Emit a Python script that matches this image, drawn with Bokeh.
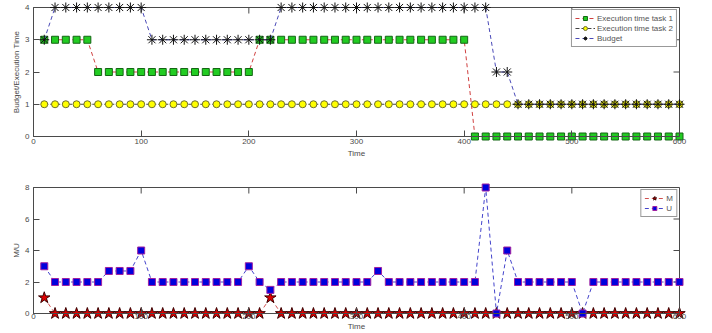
import math
from bokeh.plotting import figure
from bokeh.models import Range1d, LinearAxis, Legend, LegendItem, FixedTicker
from bokeh.layouts import column
from bokeh.embed import file_html
from bokeh.resources import INLINE

time = [10, 20, 30, 40, 50, 60, 70, 80, 90, 100,
        110, 120, 130, 140, 150, 160, 170, 180, 190, 200,
        210, 220, 230, 240, 250, 260, 270, 280, 290, 300,
        310, 320, 330, 340, 350, 360, 370, 380, 390, 400,
        410, 420, 430, 440, 450, 460, 470, 480, 490, 500,
        510, 520, 530, 540, 550, 560, 570, 580, 590, 600]

exec_task1 = [3, 3, 3, 3, 3, 2, 2, 2, 2, 2,
              2, 2, 2, 2, 2, 2, 2, 2, 2, 2,
              3, 3, 3, 3, 3, 3, 3, 3, 3, 3,
              3, 3, 3, 3, 3, 3, 3, 3, 3, 3,
              0, 0, 0, 0, 0, 0, 0, 0, 0, 0,
              0, 0, 0, 0, 0, 0, 0, 0, 0, 0]

exec_task2 = [1, 1, 1, 1, 1, 1, 1, 1, 1, 1,
              1, 1, 1, 1, 1, 1, 1, 1, 1, 1,
              1, 1, 1, 1, 1, 1, 1, 1, 1, 1,
              1, 1, 1, 1, 1, 1, 1, 1, 1, 1,
              1, 1, 1, 1, 1, 1, 1, 1, 1, 1,
              1, 1, 1, 1, 1, 1, 1, 1, 1, 1]

budget = [3, 4, 4, 4, 4, 4, 4, 4, 4, 4,
          3, 3, 3, 3, 3, 3, 3, 3, 3, 3,
          3, 3, 4, 4, 4, 4, 4, 4, 4, 4,
          4, 4, 4, 4, 4, 4, 4, 4, 4, 4,
          4, 4, 2, 2, 1, 1, 1, 1, 1, 1,
          1, 1, 1, 1, 1, 1, 1, 1, 1, 1]

m_vals = [1, 0, 0, 0, 0, 0, 0, 0, 0, 0,
          0, 0, 0, 0, 0, 0, 0, 0, 0, 0,
          0, 1, 0, 0, 0, 0, 0, 0, 0, 0,
          0, 0, 0, 0, 0, 0, 0, 0, 0, 0,
          0, 0, 0, 0, 0, 0, 0, 0, 0, 0,
          0, 0, 0, 0, 0, 0, 0, 0, 0, 0]

u_vals = [3, 2, 2, 2, 2, 2, 2.7, 2.7, 2.7, 4,
          2, 2, 2, 2, 2, 2, 2, 2, 2, 3,
          2, 1.5, 2, 2, 2, 2, 2, 2, 2, 2,
          2, 2.7, 2, 2, 2, 2, 2, 2, 2, 2,
          2, 8, 0, 4, 2, 2, 2, 2, 2, 2,
          0, 2, 2, 2, 2, 2, 2, 2, 2, 2]

x_ticks = [0, 100, 200, 300, 400, 500, 600]
y_ticks_top = [0, 1, 2, 3, 4]
y_ticks_bottom = [0, 2, 4, 6, 8]
x_min, x_max = 0, 600

FONT = "Liberation Sans"
AX_COLOR = "#4a4a4a"
TXT_COLOR = "#4a4a4a"
TICK_LEN = 6


def style_axis(ax, ticks):
    ax.ticker = FixedTicker(ticks=ticks)
    ax.axis_line_color = AX_COLOR
    ax.major_tick_line_color = AX_COLOR
    ax.major_tick_in = TICK_LEN
    ax.major_tick_out = 0
    ax.minor_tick_line_color = None
    ax.major_label_text_font = FONT
    ax.major_label_text_color = TXT_COLOR
    ax.major_label_text_font_size = "8px"
    ax.major_label_standoff = 2
    ax.axis_label_text_font = FONT
    ax.axis_label_text_color = TXT_COLOR
    ax.axis_label_text_font_style = "normal"
    ax.axis_label_text_font_size = "8px"
    ax.axis_label_standoff = 2


def make_fig(height, ymax, yticks, ylabel, top, bottom, x_std, x_lbl_std):
    p = figure(width=712, height=height, output_backend="svg", toolbar_location=None,
               x_range=Range1d(x_min, x_max), y_range=Range1d(0, ymax),
               min_border_left=33, min_border_right=33,
               min_border_top=top, min_border_bottom=bottom,
               x_axis_location=None, y_axis_location=None)
    p.outline_line_color = AX_COLOR
    p.outline_line_width = 1
    p.xgrid.visible = False
    p.ygrid.visible = False
    p.background_fill_color = "white"
    p.border_fill_color = "white"

    left = LinearAxis(axis_label=ylabel)
    style_axis(left, yticks)
    left.major_label_standoff = 4
    left.axis_label_standoff = 1
    p.add_layout(left, "left")

    below = LinearAxis(axis_label="Time")
    style_axis(below, x_ticks)
    below.major_label_standoff = x_std
    below.axis_label_standoff = x_lbl_std
    p.add_layout(below, "below")

    # mirrored inward tick marks on the top and right edges of the box
    p.ray(x=x_ticks, y=[ymax] * len(x_ticks), length=TICK_LEN, length_units="screen",
          angle=-math.pi / 2, line_color=AX_COLOR, line_width=1)
    p.ray(x=[x_max] * len(yticks), y=yticks, length=TICK_LEN, length_units="screen",
          angle=math.pi, line_color=AX_COLOR, line_width=1)
    return p


def style_legend(lg):
    lg.location = "top_right"
    lg.margin = 2
    lg.padding = 3
    lg.spacing = 0
    lg.label_text_font = FONT
    lg.label_text_font_size = "8px"
    lg.label_text_color = "#555555"
    lg.label_height = 10
    lg.label_width = 0
    lg.glyph_height = 10
    lg.glyph_width = 20
    lg.label_standoff = 2
    lg.border_line_color = "#333333"
    lg.border_line_width = 1
    lg.background_fill_color = "white"
    lg.background_fill_alpha = 1.0


def series(p, y, line_color, dash, marker, size, fill, edge):
    # level "guide": markers on the box edge are drawn whole, as in the original
    ln = p.line(time, y, line_color=line_color, line_dash=dash, line_width=1, level="guide")
    sc = p.scatter(time, y, marker=marker, size=size, fill_color=fill,
                   line_color=edge, line_width=1, level="guide")
    return ln, sc


# ---------- top plot ----------
p1 = make_fig(170, 4, y_ticks_top, "Budget/Execution Time", 7, 34, 2, 2)

r1 = series(p1, exec_task1, "#d04040", "4 3", "square", 7, "#22cc22", "#146614")
r2 = series(p1, exec_task2, "#444444", "4 2", "circle", 7, "#ffff00", "#6e6e30")
r3 = series(p1, budget, "#4a4ab8", "4 3", "asterisk", 10, None, "#111111")

lg1 = Legend(items=[LegendItem(label="Execution time task 1", renderers=list(r1)),
                    LegendItem(label="Execution time task 2", renderers=list(r2)),
                    LegendItem(label="Budget", renderers=list(r3))])
style_legend(lg1)
p1.add_layout(lg1)

# ---------- bottom plot ----------
p2 = make_fig(163, 8, y_ticks_bottom, "M/U", 17, 18, 0, 0)

r4 = series(p2, m_vals, "#d05050", "4 3", "star", 12, "#dd0000", "#3a0000")
r5 = series(p2, u_vals, "#4444cc", "4 3", "square", 7, "#0000dd", "#a020a0")

lg2 = Legend(items=[LegendItem(label="M", renderers=list(r4)),
                    LegendItem(label="U", renderers=list(r5))])
style_legend(lg2)
p2.add_layout(lg2)

layout = column(p1, p2, spacing=0)
open("out.html", "w").write(file_html(layout, INLINE))
